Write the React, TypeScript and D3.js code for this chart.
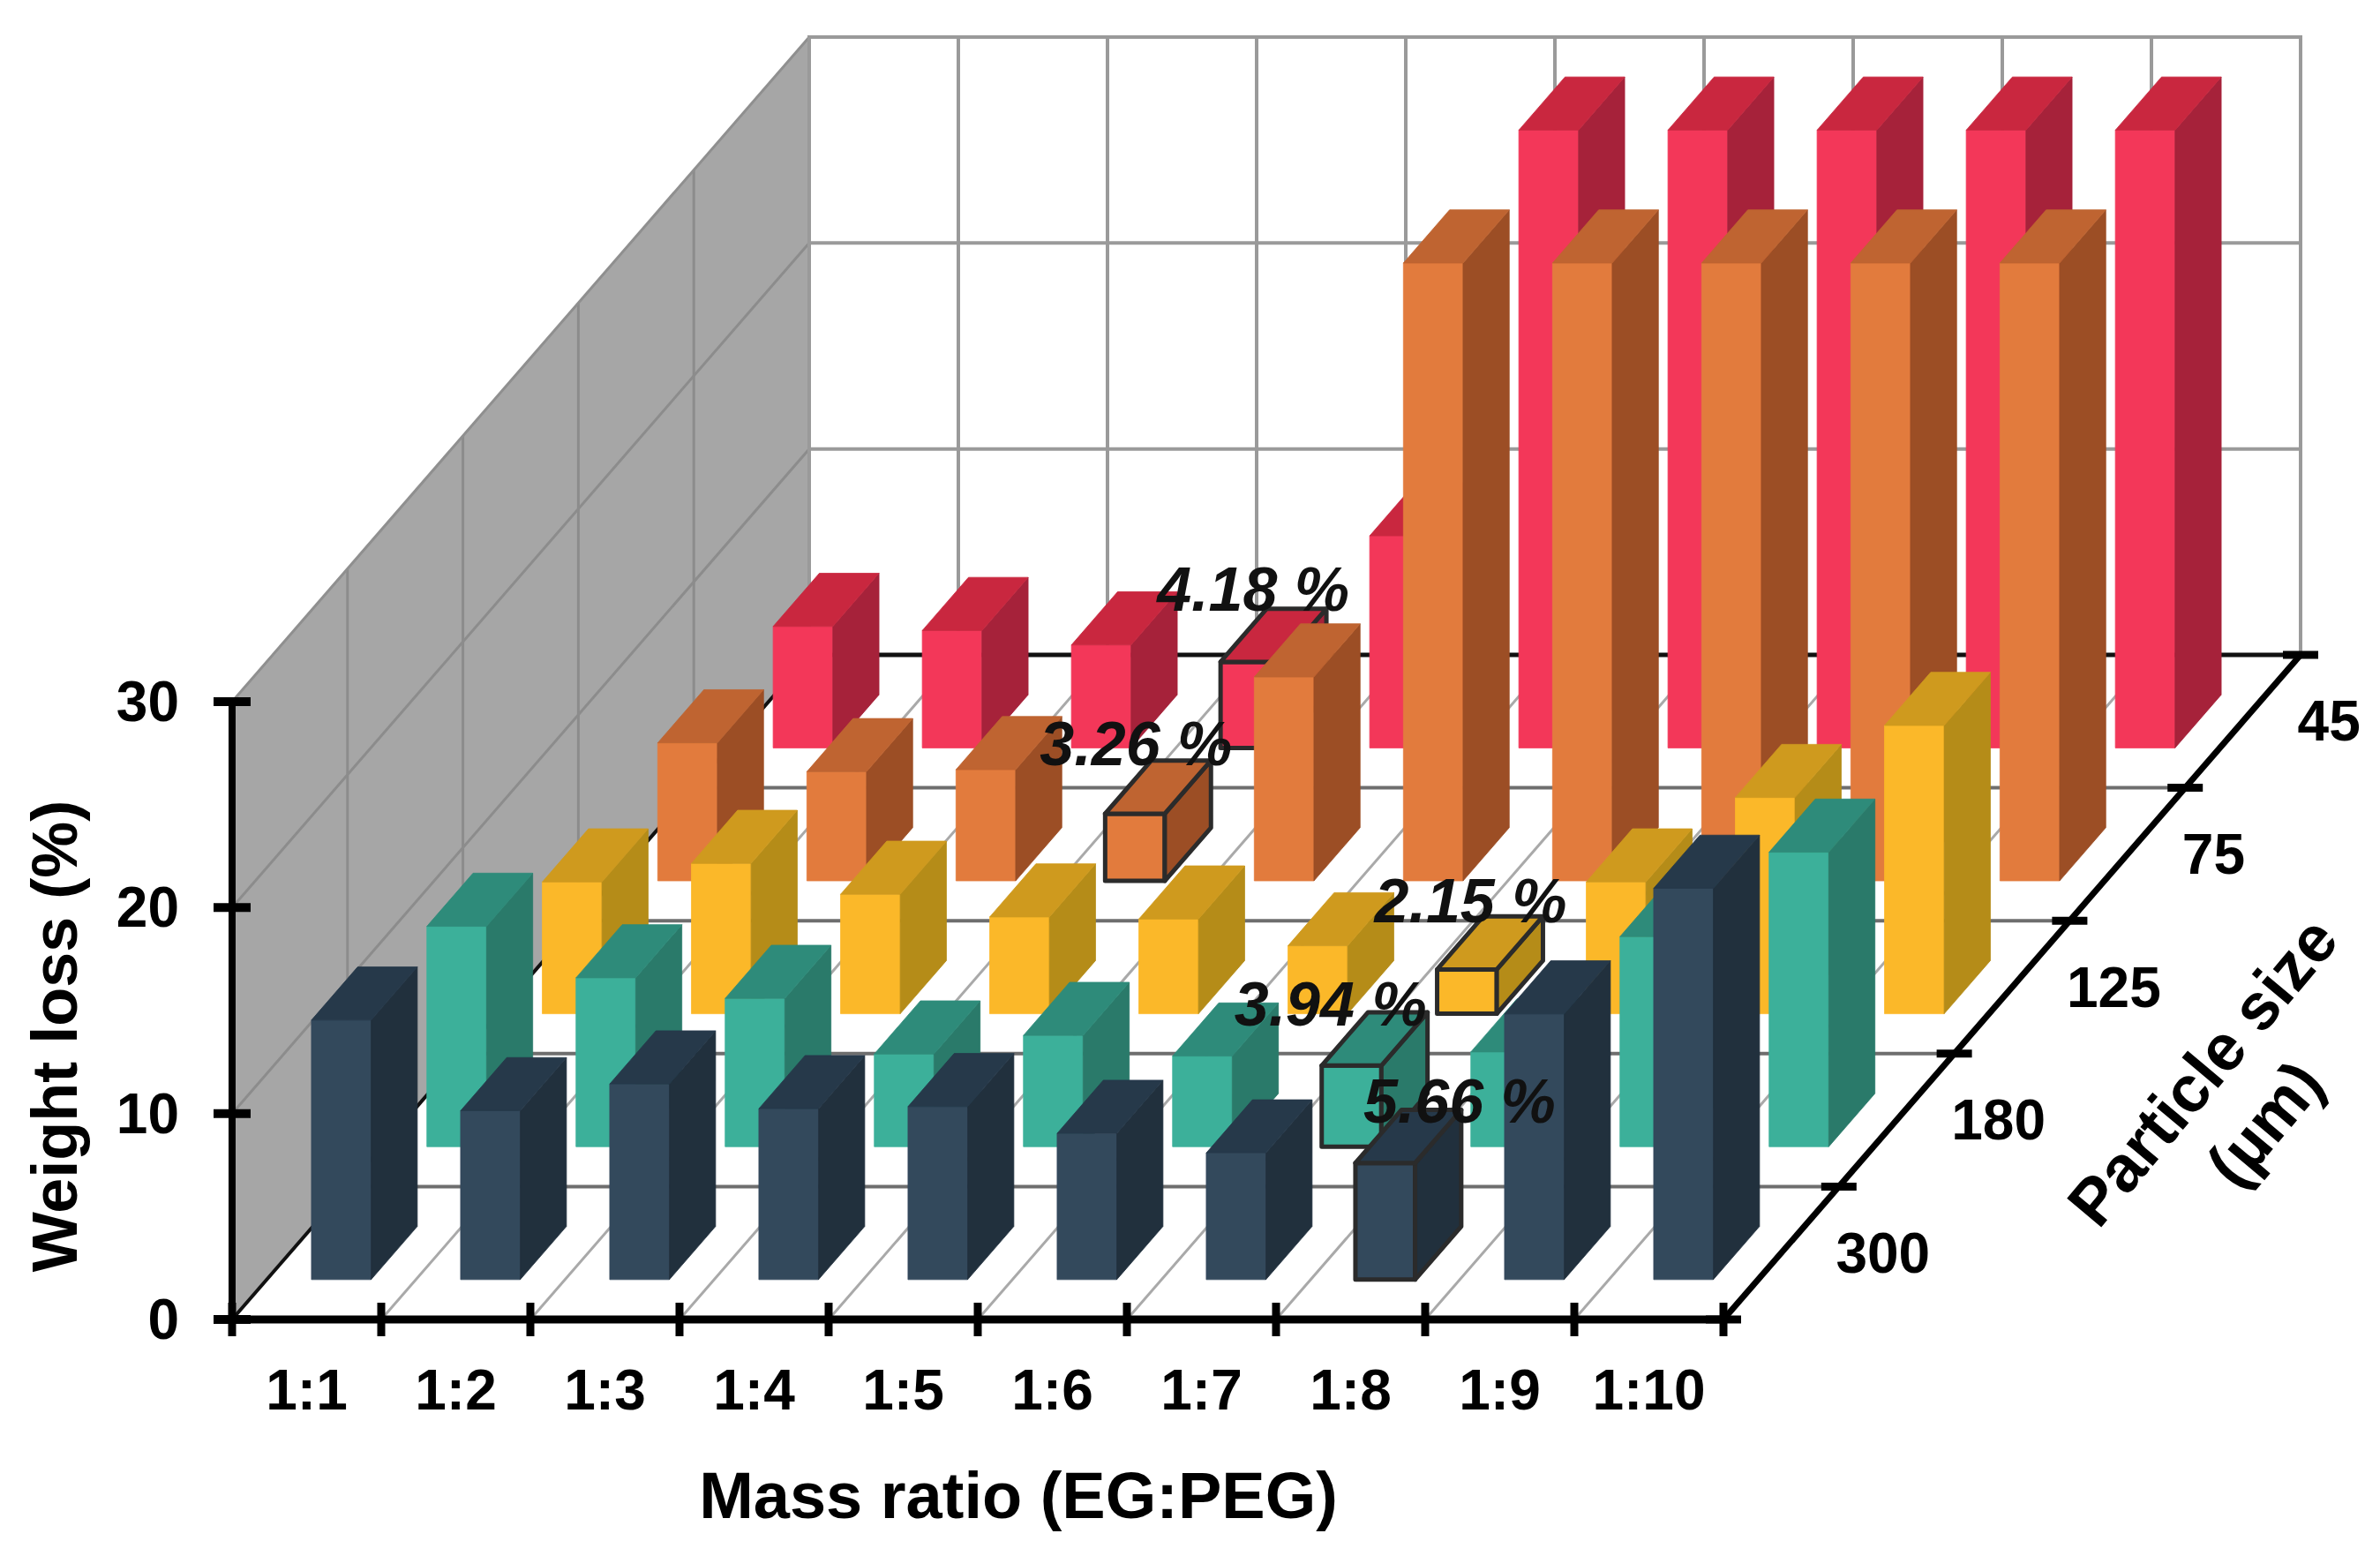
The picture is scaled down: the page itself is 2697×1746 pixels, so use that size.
import React from 'react';
import * as d3 from 'd3';

// ---------- data ----------
const categories = ['1:1', '1:2', '1:3', '1:4', '1:5', '1:6', '1:7', '1:8', '1:9', '1:10'];
const particleSizes = ['300', '180', '125', '75', '45']; // front -> back
const loss300 = [12.6, 8.2, 9.5, 8.3, 8.4, 7.1, 6.15, 5.66, 12.9, 19.0];
const loss180 = [10.7, 8.2, 7.2, 4.5, 5.4, 4.4, 3.94, 4.6, 10.2, 14.3];
const loss125 = [6.4, 7.3, 5.8, 4.7, 4.6, 3.3, 2.15, 6.4, 10.5, 14.0];
const loss75 = [6.7, 5.3, 5.4, 3.26, 9.9, 30, 30, 30, 30, 30];
const loss45 = [5.9, 5.7, 5.0, 4.18, 10.3, 30, 30, 30, 30, 30];
const seriesValues = [loss300, loss180, loss125, loss75, loss45];
const yTicks = [0, 10, 20, 30];
// highlighted minima: [particle size, category, label]
const highlightSize = ['45', '75', '125', '180', '300'];
const highlightCat = ['1:4', '1:4', '1:7', '1:7', '1:8'];
const highlightText = ['4.18 %', '3.26 %', '2.15 %', '3.94 %', '5.66 %'];

// ---------- styles ----------
const seriesColors = [
  { front: '#33495c', top: '#26394a', side: '#21303d' },
  { front: '#3cb09a', top: '#2e8b7a', side: '#2a7a6a' },
  { front: '#fbb829', top: '#cf9a1e', side: '#b58c18' },
  { front: '#e27b3d', top: '#bf6431', side: '#9c4e25' },
  { front: '#f33759', top: '#c9273f', side: '#a6223a' },
];
const labelOffsets: [number, number][] = [
  [-23, -28],
  [-25, -25],
  [-22, -23],
  [-50, -15],
  [58, -16],
];

const W = 2697;
const H = 1746;
const FONT = '"Liberation Sans", Arial, sans-serif';

const x0 = 263;
const y0 = 1495;
const xS = d3.scaleLinear().domain([0, categories.length]).range([x0, 1953]);
const dX = d3.scaleLinear().domain([0, particleSizes.length]).range([0, 654]);
const dY = d3.scaleLinear().domain([0, particleSizes.length]).range([0, -753]);
const zS = d3.scaleLinear().domain([0, 30]).range([0, -700]);

const P = (x: number, d: number, z: number): [number, number] => [xS(x) + dX(d), y0 + dY(d) + zS(z)];
const pts = (arr: [number, number][]) => arr.map((p) => p.join(',')).join(' ');
const ln = (a: [number, number], b: [number, number]) => ({ x1: a[0], y1: a[1], x2: b[0], y2: b[1] });

const BW = 0.4; // bar width fraction
const BD = 0.4; // bar depth fraction

function Bar({ i, r, v, outline }: { i: number; r: number; v: number; outline: boolean }) {
  const c = seriesColors[r];
  const a = i + (1 - BW) / 2;
  const b = a + BW;
  const d0 = r + (1 - BD) / 2;
  const d1 = d0 + BD;
  const sw = outline ? 5 : 0.8;
  const oc = '#2b2b2b';
  return (
    <g>
      <polygon
        points={pts([P(a, d0, 0), P(b, d0, 0), P(b, d0, v), P(a, d0, v)])}
        fill={c.front}
        stroke={outline ? oc : c.front}
        strokeWidth={sw}
        strokeLinejoin="round"
      />
      <polygon
        points={pts([P(b, d0, 0), P(b, d1, 0), P(b, d1, v), P(b, d0, v)])}
        fill={c.side}
        stroke={outline ? oc : c.side}
        strokeWidth={sw}
        strokeLinejoin="round"
      />
      <polygon
        points={pts([P(a, d0, v), P(b, d0, v), P(b, d1, v), P(a, d1, v)])}
        fill={c.top}
        stroke={outline ? oc : c.top}
        strokeWidth={sw}
        strokeLinejoin="round"
      />
    </g>
  );
}

export default function App() {
  const nC = categories.length;
  const nR = particleSizes.length;
  const zMax = yTicks[yTicks.length - 1];

  const isHighlight = (r: number, i: number) =>
    highlightSize.some((s, k) => s === particleSizes[r] && highlightCat[k] === categories[i]);

  const rowsBackToFront = d3.range(nR).reverse();

  return (
    <svg
      width={W}
      height={H}
      viewBox={`0 0 ${W} ${H}`}
      style={{ position: 'absolute', left: 0, top: 0, background: '#fff' }}
      fontFamily={FONT}
    >
      <rect x={0} y={0} width={W} height={H} fill="#fff" />
      {/* side wall */}
      <polygon points={pts([P(0, 0, 0), P(0, nR, 0), P(0, nR, zMax), P(0, 0, zMax)])} fill="#a6a6a6" />
      {d3.range(1, nR).map((d) => (
        <line key={'sv' + d} {...ln(P(0, d, 0), P(0, d, zMax))} stroke="#8c8c8c" strokeWidth={3} />
      ))}
      {yTicks.slice(1, -1).map((z) => (
        <line key={'sh' + z} {...ln(P(0, 0, z), P(0, nR, z))} stroke="#8c8c8c" strokeWidth={3} />
      ))}
      <line {...ln(P(0, 0, zMax), P(0, nR, zMax))} stroke="#8f8f8f" strokeWidth={3} />
      {/* back wall */}
      <polygon
        points={pts([P(0, nR, 0), P(nC, nR, 0), P(nC, nR, zMax), P(0, nR, zMax)])}
        fill="#fff"
        stroke="#9a9a9a"
        strokeWidth={4}
      />
      {d3.range(1, nC).map((x) => (
        <line key={'bv' + x} {...ln(P(x, nR, 0), P(x, nR, zMax))} stroke="#9a9a9a" strokeWidth={4} />
      ))}
      {yTicks.slice(1, -1).map((z) => (
        <line key={'bh' + z} {...ln(P(0, nR, z), P(nC, nR, z))} stroke="#9a9a9a" strokeWidth={4} />
      ))}
      {/* floor grid */}
      {d3.range(1, nC).map((x) => (
        <line key={'fd' + x} {...ln(P(x, 0, 0), P(x, nR, 0))} stroke="#a9a9a9" strokeWidth={3} />
      ))}
      {d3.range(1, nR).map((d) => (
        <line key={'fx' + d} {...ln(P(0, d, 0), P(nC, d, 0))} stroke="#6e6e6e" strokeWidth={4} />
      ))}
      <line {...ln(P(0, nR, 0), P(nC, nR, 0))} stroke="#111" strokeWidth={5} />
      <line {...ln(P(0, 0, 0), P(0, nR, 0))} stroke="#111" strokeWidth={4} />

      {/* bars */}
      {rowsBackToFront.map((r) => (
        <g key={'row' + r}>
          {seriesValues[r].map((v, i) => (
            <Bar key={i} i={i} r={r} v={v} outline={isHighlight(r, i)} />
          ))}
        </g>
      ))}

      {/* value axis */}
      <line {...ln(P(0, 0, 0), P(0, 0, zMax))} stroke="#000" strokeWidth={8} />
      {yTicks.map((t) => {
        const [px, py] = P(0, 0, t);
        return (
          <g key={'yt' + t}>
            <line x1={px - 21} x2={px + 21} y1={py} y2={py} stroke="#000" strokeWidth={10} />
            <text x={px - 60} y={py} textAnchor="end" dominantBaseline="central" fontSize={64} fontWeight="bold">
              {t}
            </text>
          </g>
        );
      })}
      {/* category axis */}
      <line {...ln(P(0, 0, 0), P(nC, 0, 0))} stroke="#000" strokeWidth={9} />
      {d3.range(0, nC + 1).map((x) => {
        const [px, py] = P(x, 0, 0);
        return <line key={'xt' + x} x1={px} x2={px} y1={py - 19} y2={py + 19} stroke="#000" strokeWidth={9} />;
      })}
      {categories.map((c, i) => {
        const [px, py] = P(i + 0.5, 0, 0);
        return (
          <text key={c} x={px} y={py + 80} textAnchor="middle" dominantBaseline="central" fontSize={64} fontWeight="bold">
            {c}
          </text>
        );
      })}
      <text x={1154} y={1694} textAnchor="middle" dominantBaseline="central" fontSize={74} fontWeight="bold">
        Mass ratio (EG:PEG)
      </text>
      {/* depth axis */}
      <line {...ln(P(nC, 0, 0), P(nC, nR, 0))} stroke="#000" strokeWidth={7} />
      {d3.range(0, nR + 1).map((d) => {
        const [px, py] = P(nC, d, 0);
        return <line key={'dt' + d} x1={px - 20} x2={px + 20} y1={py} y2={py} stroke="#000" strokeWidth={9} />;
      })}
      {particleSizes.map((s, r) => {
        const [px, py] = P(nC, r + 0.5, 0);
        return (
          <text key={s} x={px + 62} y={py} textAnchor="start" dominantBaseline="central" fontSize={64} fontWeight="bold">
            {s}
          </text>
        );
      })}
      <g transform="translate(2496,1214) rotate(-50)">
        <text x={0} y={0} textAnchor="middle" dominantBaseline="central" fontSize={74} fontWeight="bold">
          Particle size
        </text>
        <text x={0} y={92} textAnchor="middle" dominantBaseline="central" fontSize={74} fontWeight="bold">
          (µm)
        </text>
      </g>
      {/* value axis title */}
      <text
        transform="translate(62,1174) rotate(-90)"
        textAnchor="middle"
        dominantBaseline="central"
        fontSize={72}
        fontWeight="bold"
      >
        Weight loss (%)
      </text>

      {/* data labels for minima */}
      {highlightText.map((t, k) => {
        const r = particleSizes.indexOf(highlightSize[k]);
        const i = categories.indexOf(highlightCat[k]);
        const v = seriesValues[r][i];
        const [px, py] = P(i + 0.5, r + 0.5, v);
        const [ox, oy] = labelOffsets[k];
        return (
          <text
            key={t}
            x={px + ox}
            y={py + oy}
            textAnchor="middle"
            fontSize={70}
            fontWeight="bold"
            fontStyle="italic"
            fill="#111"
          >
            {t}
          </text>
        );
      })}
    </svg>
  );
}
